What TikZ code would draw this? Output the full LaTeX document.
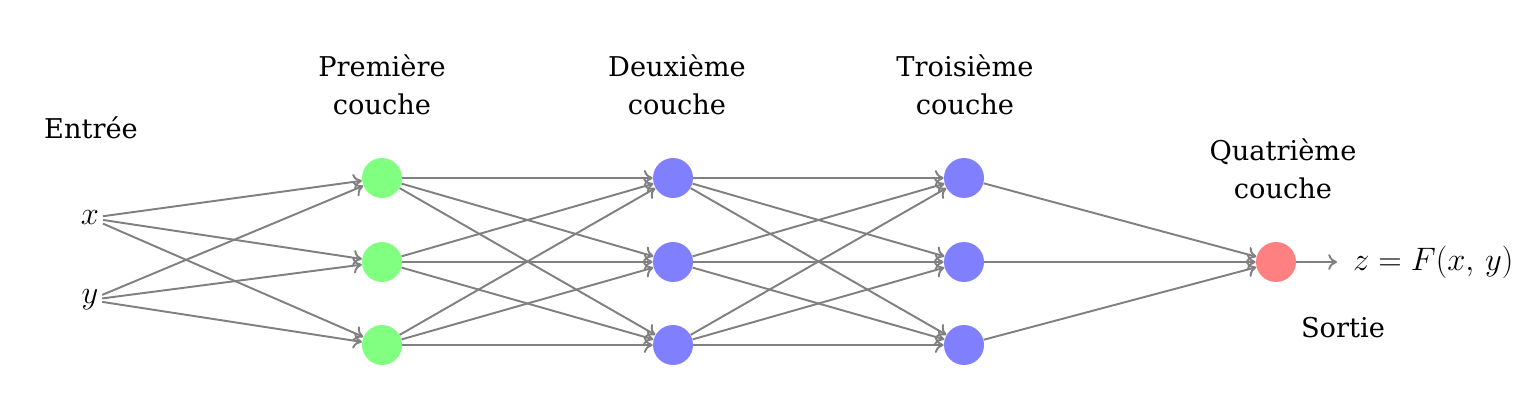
\RequirePackage{fix-cm}
\documentclass[tikz,border=0pt]{standalone}
\usepackage{fontspec}
\setmainfont{DejaVu Serif}
\usetikzlibrary{arrows.meta}
\begin{document}
\begin{tikzpicture}[x=0.02cm,y=-0.02cm,
  neuron/.style={circle,minimum size=0.8cm,inner sep=0pt},
  inp/.style={fill=green!50,neuron},
  hid/.style={fill=blue!50,neuron},
  outp/.style={fill=red!50,neuron},
  conn/.style={draw=gray,line width=1.1pt,-{To[length=5pt,width=9pt]}},
  lbl/.style={align=center,font=\fontsize{15.5}{21.5}\selectfont},
  var/.style={font=\fontsize{18.5}{22}\selectfont,inner sep=2pt}]
\useasboundingbox (0,0) rectangle (1519,412);
\node[var] (x) at (90,218) {$x$};
\node[var] (y) at (90,300) {$y$};
\foreach \i/\yy in {1/178,2/262,3/345}{
  \node[inp] (a\i) at (382,\yy) {};
  \node[hid] (b\i) at (673,\yy) {};
  \node[hid] (c\i) at (964,\yy) {};
}
\node[outp] (o) at (1276,262) {};
\node[var,anchor=west,inner xsep=9pt] (z) at (1337,262) {$z=F(x,\,y)$};
\foreach \i in {1,2,3}{
  \draw[conn] (x) -- (a\i);
  \draw[conn] (y) -- (a\i);
  \draw[conn] (c\i) -- (o);
  \foreach \j in {1,2,3}{
    \draw[conn] (a\i) -- (b\j);
    \draw[conn] (b\i) -- (c\j);
  }
}
\draw[conn] (o) -- (z);
\node[lbl] (le) at (91,128) {Entrée};
\node[lbl] (l1) at (382,85) {Première\\couche};
\node[lbl] (l2) at (677,85) {Deuxième\\couche};
\node[lbl] (l3) at (965,85) {Troisième\\couche};
\node[lbl] (l4) at (1283,169) {Quatrième\\couche};
\node[lbl] (ls) at (1343,328) {Sortie};
\end{tikzpicture}
\end{document}
